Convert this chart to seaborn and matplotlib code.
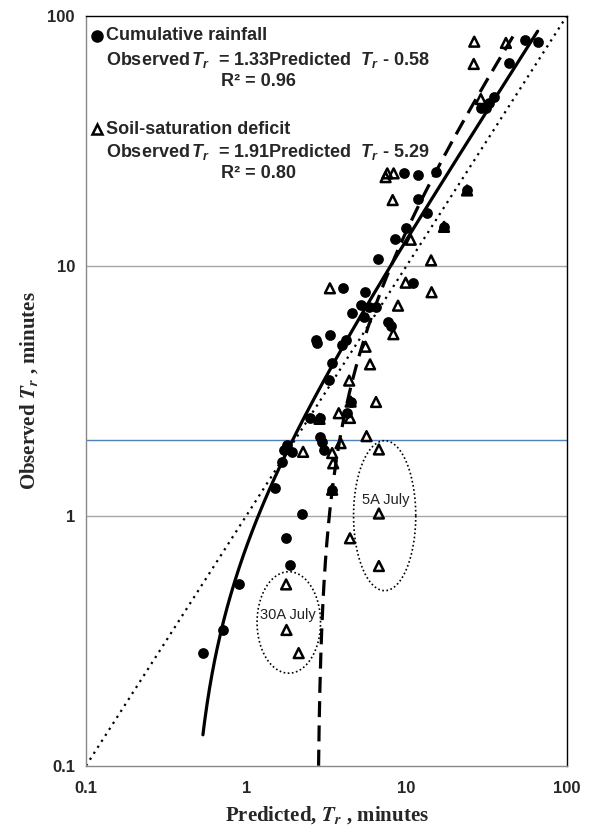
import numpy as np
import pandas as pd
import matplotlib
matplotlib.use("Agg")
import matplotlib.pyplot as plt
import seaborn as sns

# Cumulative rainfall: predicted vs observed Tr (minutes), filled circles
rain_pred = [54.9, 65.6, 43.6, 35.1, 32.7, 29.0, 31.2, 9.63, 11.8, 15.2, 11.8, 13.3,
             9.86, 8.45, 6.63, 23.8, 17.1, 4.02, 5.49, 10.9, 4.53, 5.16, 5.81, 5.41,
             6.40, 7.64, 7.94, 2.70, 2.77, 3.32, 3.96, 4.16, 3.43, 3.27, 4.47, 2.51,
             2.90, 4.26, 2.90, 2.97, 3.04, 1.80, 1.71, 1.93, 1.67, 1.50, 3.43, 2.24,
             1.78, 1.87, 0.896, 0.715, 0.536]
rain_obs = [80.0, 78.7, 64.5, 47.4, 44.6, 42.6, 42.6, 23.4, 23.0, 23.8, 18.4, 16.2,
            14.1, 12.8, 10.6, 20.0, 14.3, 8.17, 7.87, 8.55, 6.49, 6.96, 6.85, 6.25,
            6.85, 5.97, 5.74, 5.04, 4.89, 5.28, 4.82, 5.04, 4.07, 3.49, 2.86, 2.46,
            2.46, 2.57, 2.07, 1.98, 1.83, 1.92, 1.83, 1.80, 1.64, 1.29, 1.27, 1.02,
            0.817, 0.635, 0.533, 0.349, 0.283]

# Soil-saturation deficit: predicted vs observed Tr (minutes), open triangles
soil_pred = [26.4, 41.6, 26.2, 29.0, 7.57, 8.29, 7.39, 8.18, 10.6, 14.2, 3.32, 9.86,
             14.3, 8.83, 8.26, 5.54, 5.91, 4.38, 6.44, 4.47, 3.77, 4.43, 2.86, 5.62,
             2.26, 3.87, 3.43, 3.48, 6.71, 3.43, 6.71, 4.43, 6.71, 1.77, 1.78, 2.12,
             23.8, 17.1]
soil_obs = [78.7, 77.8, 64.1, 46.4, 23.4, 23.4, 22.6, 18.3, 12.7, 10.5, 8.12, 8.55,
            7.83, 6.92, 5.32, 4.74, 4.03, 3.47, 2.85, 2.86, 2.57, 2.46, 2.44, 2.08,
            1.80, 1.95, 1.78, 1.62, 1.84, 1.27, 1.02, 0.812, 0.629, 0.531, 0.349, 0.282,
            20.0, 14.3]

# Linear fits (Observed = slope * Predicted + intercept)
rain_slope, rain_icpt = 1.33, -0.58
soil_slope, soil_icpt = 1.91, -5.29
soil_fit_xmax = 48.5  # where the dashed fit stops on the chart

ticks = [0.1, 1, 10, 100]
tick_labels = ["0.1", "1", "10", "100"]
ref_level = 2  # blue reference line

# circled event groups: label, centre (pred, obs), half-widths in decades
group_names = ["5A July", "30A July"]
group_centres = [(7.29, 1.0), (1.84, 0.374)]
group_radii = [(0.194, 0.30), (0.198, 0.203)]
group_label_pos = [(7.39, 1.16), (1.82, 0.40)]

rain = pd.DataFrame({"pred": rain_pred, "obs": rain_obs})
soil = pd.DataFrame({"pred": soil_pred, "obs": soil_obs})

sns.set_style("white")
plt.rcParams["font.family"] = ["Liberation Sans", "DejaVu Sans"]
plt.rcParams["mathtext.fontset"] = "custom"
plt.rcParams["mathtext.rm"] = "Liberation Sans:bold"
plt.rcParams["mathtext.it"] = "Liberation Sans:italic:bold"
plt.rcParams["mathtext.bf"] = "Liberation Sans:bold"

fig = plt.figure(figsize=(5.9, 8.3), dpi=100)
ax = fig.add_axes([0.1458, 0.0775, 0.8152, 0.9036])
ax.set_xscale("log")
ax.set_yscale("log")
ax.set_xlim(0.1, 100)
ax.set_ylim(0.1, 100)

# grid + reference line
for yv in [1, 10]:
    ax.axhline(yv, color="#a6a6a6", lw=1, zorder=0)
ax.axhline(ref_level, color="#4f81bd", lw=1, zorder=0)

# 1:1 line
ax.plot([0.1, 100], [0.1, 100], color="black", ls=(0, (1, 2.2)), lw=1.6, zorder=2)

# fit lines
xr = np.geomspace(min(rain_pred), max(rain_pred), 400)
sns.lineplot(x=xr, y=rain_slope * xr + rain_icpt, ax=ax, color="black", lw=2.3,
             zorder=3, sort=False)
x0 = (0.1 - soil_icpt) / soil_slope
xs = np.geomspace(x0, soil_fit_xmax, 2000)
sns.lineplot(x=xs, y=soil_slope * xs + soil_icpt, ax=ax, color="black", lw=2.3,
             zorder=3, sort=False, linestyle=(0, (5, 2.6)))

# data
sns.scatterplot(data=rain, x="pred", y="obs", ax=ax, marker="o", s=60,
                color="black", edgecolor="black", linewidth=0, zorder=4)
sns.scatterplot(data=soil, x="pred", y="obs", ax=ax, marker="^", s=50,
                facecolor="none", edgecolor="black", linewidth=1.8, zorder=5)

# circled groups
t = np.linspace(0, 2 * np.pi, 300)
for name, (cx, cy), (rx, ry), (lx, ly) in zip(group_names, group_centres,
                                                group_radii, group_label_pos):
    ex = 10 ** (np.log10(cx) + rx * np.cos(t))
    ey = 10 ** (np.log10(cy) + ry * np.sin(t))
    ax.plot(ex, ey, color="black", ls=(0, (1, 1.5)), lw=1.2, zorder=3)
    ax.text(lx, ly, name, fontsize=10.5, color="#222222", ha="center", va="center",
            fontweight="normal", zorder=6)

# axes styling
ax.set_xticks(ticks)
ax.set_xticklabels(tick_labels)
ax.set_yticks(ticks)
ax.set_yticklabels(tick_labels)
ax.minorticks_off()
ax.tick_params(axis="both", which="major", length=5, width=1, color="#888888",
               direction="out", labelsize=12, pad=3)
ax.tick_params(axis="x", pad=6)
for lab in ax.get_xticklabels() + ax.get_yticklabels():
    lab.set_fontweight("bold")
for side in ["left", "bottom"]:
    ax.spines[side].set_color("#888888")
    ax.spines[side].set_linewidth(1)
for side in ["top", "right"]:
    ax.spines[side].set_color("black")
    ax.spines[side].set_linewidth(1)

ax.set_xlabel(r"Predicted, $\mathbfit{T_r}$ , minutes", fontsize=15,
              family="Liberation Serif", fontweight="bold", math_fontfamily="stix",
              labelpad=6)
ax.set_ylabel(r"Observed $\mathbfit{T_r}$ , minutes", fontsize=15,
              family="Liberation Serif", fontweight="bold", math_fontfamily="stix",
              labelpad=5)

# legend-like annotation block
W, H = 590, 830
def ftext(px, py, s):
    fig.text(px / W, 1 - py / H, s, fontsize=13, fontweight="bold",
             ha="left", va="center")

ax.plot([97 / W], [1 - 36 / H], marker="o", ms=8, color="black",
        transform=fig.transFigure, clip_on=False)
ax.plot([97 / W], [1 - 129 / H], marker="^", ms=7.5, mfc="none", mec="black",
        mew=1.8, transform=fig.transFigure, clip_on=False)
ftext(106, 36, "Cumulative rainfall")
ftext(106, 60, r"Observed$\,T_r$  = 1.33Predicted  $T_r$ - 0.58")
ftext(221, 82, "R² = 0.96")
ftext(106, 129, "Soil-saturation deficit")
ftext(106, 152, r"Observed$\,T_r$  = 1.91Predicted  $T_r$ - 5.29")
ftext(221, 174, "R² = 0.80")

fig.savefig("out.png", dpi=100)
